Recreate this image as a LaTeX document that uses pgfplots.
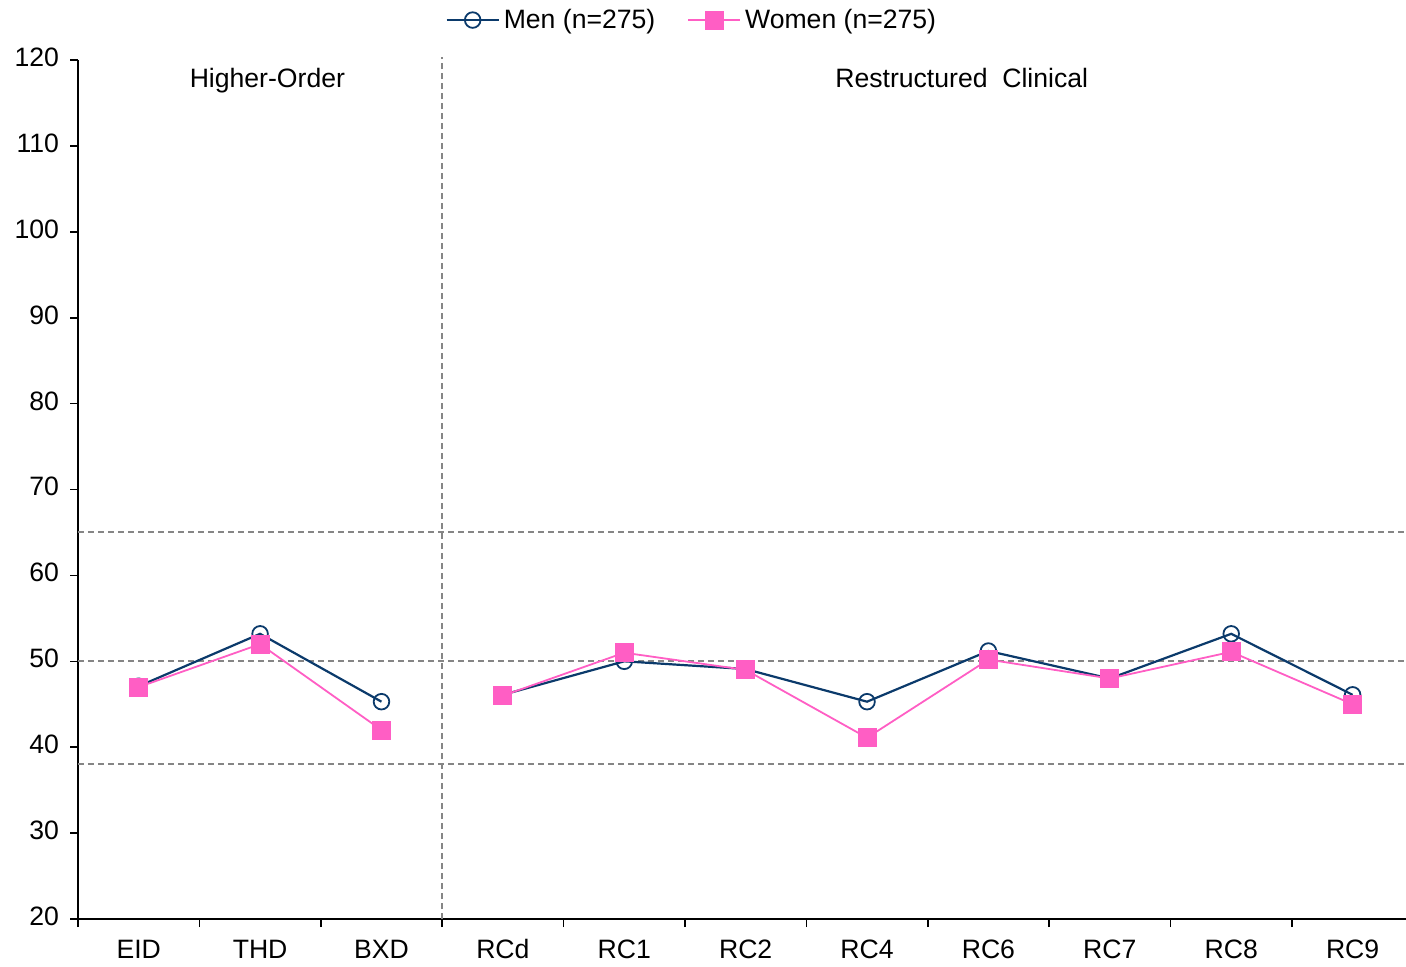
\documentclass[border=0pt]{standalone}
\usepackage{pgfplots}
\pgfplotsset{compat=1.18}
\usepackage{fontspec}
\setmainfont{Liberation Sans}
\usetikzlibrary{calc}
\definecolor{menc}{HTML}{0B3A6B}
\definecolor{womenc}{HTML}{FF5EC4}
\definecolor{refc}{HTML}{858585}
\begin{document}
\begin{tikzpicture}
\begin{axis}[name=ax, scale only axis, width=664pt, height=429.5pt,
  xmin=-0.5, xmax=10.44, ymin=20, ymax=120,
  axis x line*=bottom, axis y line*=left,
  axis line style={line width=0.8pt, -},
  xtick={0,...,10},
  xticklabels={EID,THD,BXD,RCd,RC1,RC2,RC4,RC6,RC7,RC8,RC9},
  minor xtick={-0.5,0.5,...,9.5},
  ytick={20,30,...,120},
  tick align=outside,
  major x tick style={draw=none},
  minor tick length=4pt, major tick length=4pt,
  every tick/.style={black, line width=0.8pt},
  tick label style={font=\fontsize{13.3}{16}\selectfont},
  typeset ticklabels with strut,
  yticklabel style={xshift=-2pt},
  xticklabel style={yshift=-1pt},
  /pgf/number format/assume math mode=true,
  clip=false,
  unbounded coords=jump,
  legend columns=2,
  legend style={draw=none, fill=none, at={(0.463,1.0465)}, anchor=center,
    font=\fontsize{13.3}{16}\selectfont, /tikz/every even column/.append style={column sep=14pt}},
  legend image code/.code={\draw[#1] (0pt,0pt) -- (26pt,0pt); \draw[#1, only marks] plot coordinates {(13pt,0pt)};},
]
\draw[refc, line width=1pt, dash pattern=on 3pt off 2pt] (axis cs:2.5,20) -- (axis cs:2.5,120.3);
\draw[refc, line width=1pt, dash pattern=on 3pt off 2pt] (axis cs:-0.5,65) -- (axis cs:10.44,65);
\draw[refc, line width=1pt, dash pattern=on 3pt off 2pt] (axis cs:-0.5,50) -- (axis cs:10.44,50);
\draw[refc, line width=1pt, dash pattern=on 3pt off 2pt] (axis cs:-0.5,38) -- (axis cs:10.44,38);
\addplot[menc, line width=1.1pt, mark=o, mark size=3.9pt, mark options={fill=white, line width=0.9pt}]
  coordinates {(0,47.1)(1,53.2)(2,45.3)(2.5,nan)(3,46.1)(4,50)(5,49.1)(6,45.3)(7,51.2)(8,48)(9,53.2)(10,46.1)};
\addlegendentry{Men (n=275)}
\addplot[womenc, line width=0.9pt, mark=square*, mark size=4.3pt, mark options={solid, fill=womenc, draw=womenc}]
  coordinates {(0,47)(1,52)(2,42)(2.5,nan)(3,46)(4,51)(5,49)(6,41.1)(7,50.2)(8,48)(9,51.1)(10,45)};
\addlegendentry{Women (n=275)}
\node[font=\fontsize{13.3}{16}\selectfont] at (axis cs:1.06,117.55) {Higher-Order};
\node[font=\fontsize{13.3}{16}\selectfont] at (axis cs:6.78,117.9) {Restructured\ \ Clinical};
\end{axis}
\pgfresetboundingbox
\path[use as bounding box] ($(ax.south west)+(-39pt,-23.5pt)$) rectangle ($(ax.north east)+(0pt,30pt)$);
\end{tikzpicture}
\end{document}
